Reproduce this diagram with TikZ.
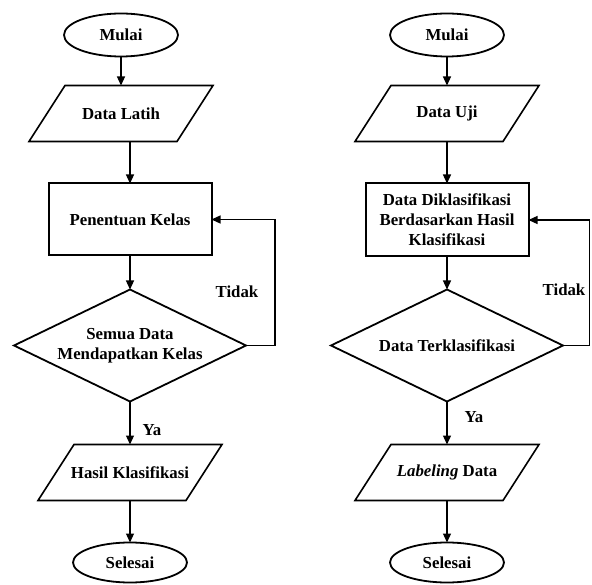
\documentclass[tikz,border=0pt]{standalone}
\usepackage{fontspec}
\setmainfont{Liberation Serif}
\usepackage{tikz}
\usetikzlibrary{arrows.meta, positioning, shapes.geometric}

\begin{document}
\begin{tikzpicture}[
  x=1pt, y=-1pt,
  every node/.style={font=\fontsize{16.8}{20}\selectfont\bfseries, outer sep=0pt},
  term/.style={ellipse, draw=black, line width=1.8pt, minimum width=114pt, minimum height=43pt, inner sep=0pt},
  io/.style={rectangle, minimum width=148pt, minimum height=56pt, inner sep=0pt},
  proc/.style={rectangle, draw=black, line width=2pt, minimum width=163pt, minimum height=72pt, align=center, inner sep=0pt},
  decide/.style={diamond, aspect=2.07, draw=black, line width=1.8pt, minimum width=232pt, minimum height=112pt, align=center, inner sep=0pt},
  arr/.style={-{Triangle[length=9pt, width=8pt]}, line width=1.3pt},
  node distance=30pt
]
\useasboundingbox (0,0) rectangle (592,585);
% training
\node[term] (m1) at (121,35) {Mulai};
\node[io, below=29pt of m1] (in1) {Data Latih};
\node[proc, below=42pt of in1, xshift=9pt] (p1) {Penentuan Kelas};
\node[decide, below=34pt of p1] (k1) {Semua Data\\Mendapatkan Kelas};
\node[io, below=43pt of k1] (out1) {Hasil Klasifikasi};
\node[term, minimum height=40pt, below=42pt of out1] (e1) {Selesai};
% testing
\node[term] (m2) at (447,35) {Mulai};
\node[io, below=29pt of m2] (in2) {Data Uji};
\node[proc, minimum height=73pt, below=42pt of in2] (p2) {Data Diklasifikasi\\Berdasarkan Hasil\\Klasifikasi};
\node[decide, below=33pt of p2] (k2) {Data Terklasifikasi};
\node[io, below=43pt of k2] (out2) {\textit{Labeling} Data};
\node[term, minimum height=40pt, below=42pt of out2] (e2) {Selesai};
% parallelogram frames
\foreach \n in {in1,out1,in2,out2}
  \draw[line width=1.6pt, line join=miter] ([xshift=-18pt]\n.south west) -- ([xshift=18pt]\n.north west)
    -- ([xshift=18pt]\n.north east) -- ([xshift=-18pt]\n.south east) -- cycle;
% labels
\node (t1) at (237,292) {Tidak};
\node (t2) at (564,290) {Tidak};
\node (y1) at (152,430) {Ya};
\node (y2) at (474,417) {Ya};
% arrows
\draw[arr] (m1) -- (in1);
\draw[arr] (in1.south -| p1.north) -- (p1.north);
\draw[arr] (p1) -- (k1);
\draw[arr] (k1) -- (out1);
\draw[arr] (out1) -- (e1);
\draw[arr] (k1.east) -- ++(29,0) |- (p1.east);
\draw[arr] (m2) -- (in2);
\draw[arr] (in2) -- (p2);
\draw[arr] (p2) -- (k2);
\draw[arr] (k2) -- (out2);
\draw[arr] (out2) -- (e2);
\draw[arr] (k2.east) -- ++(26.5,0) |- (p2.east);
\end{tikzpicture}
\end{document}
